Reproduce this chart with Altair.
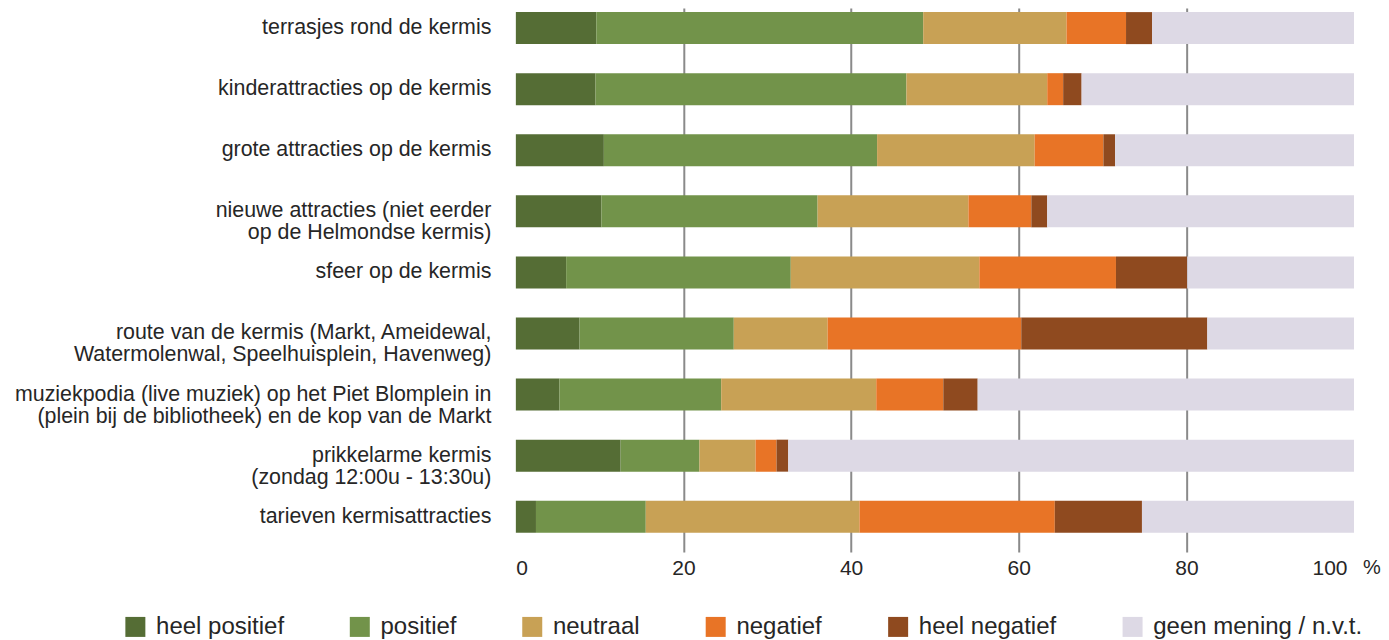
import altair as alt
import pandas as pd

categories = [
    "terrasjes rond de kermis",
    "kinderattracties op de kermis",
    "grote attracties op de kermis",
    "nieuwe attracties (niet eerder|op de Helmondse kermis)",
    "sfeer op de kermis",
    "route van de kermis (Markt, Ameidewal,|Watermolenwal, Speelhuisplein, Havenweg)",
    "muziekpodia (live muziek) op het Piet Blomplein in|(plein bij de bibliotheek) en de kop van de Markt",
    "prikkelarme kermis|(zondag 12:00u - 13:30u)",
    "tarieven kermisattracties",
]
answers = ["heel positief", "positief", "neutraal", "negatief", "heel negatief", "geen mening / n.v.t."]

heel_positief = [9.6, 9.5, 10.5, 10.2, 6.0, 7.6, 5.2, 12.5, 2.4]
positief = [39.0, 37.1, 32.6, 25.8, 26.8, 18.4, 19.3, 9.4, 13.1]
neutraal = [17.1, 16.8, 18.8, 18.0, 22.5, 11.2, 18.5, 6.7, 25.5]
negatief = [7.1, 1.9, 8.2, 7.5, 16.3, 23.1, 8.0, 2.5, 23.3]
heel_negatief = [3.1, 2.2, 1.4, 1.9, 8.5, 22.2, 4.1, 1.4, 10.4]
geen_mening = [24.1, 32.5, 28.5, 36.6, 19.9, 17.5, 44.9, 67.5, 25.3]

colors = ["#556d35", "#72934a", "#c8a155", "#e87426", "#8f4a1f", "#ddd9e5"]
x_ticks = [0, 20, 40, 60, 80, 100]

series = [heel_positief, positief, neutraal, negatief, heel_negatief, geen_mening]
rows = []
for ai, (ans, vals) in enumerate(zip(answers, series)):
    for ci, (cat, v) in enumerate(zip(categories, vals)):
        rows.append({"categorie": cat, "antwoord": ans, "waarde": v, "volgorde": ai})
df = pd.DataFrame(rows)

FONT = "Liberation Sans, Arial, sans-serif"
TXT = "#262626"

chart = alt.Chart(df).mark_bar().encode(
    y=alt.Y(
        "categorie:N",
        sort=categories,
        scale=alt.Scale(paddingInner=0.476, paddingOuter=0.19, align=0.173, round=False),
        axis=alt.Axis(
            title=None,
            labelExpr="split(datum.label, '|')",
            labelAlign="right",
            labelBaseline="middle",
            labelPadding=25,
            labelFontSize=21.4,
            labelLineHeight=22,
            labelColor=TXT,
            labelLimit=700,
            domain=False,
            ticks=False,
            grid=False,
            minExtent=507.6,
            maxExtent=507.6,
        ),
    ),
    x=alt.X(
        "waarde:Q",
        stack="zero",
        scale=alt.Scale(domain=[0, 100], nice=False),
        axis=alt.Axis(
            values=x_ticks,
            title="%",
            titleX=847,
            titleY=6,
            titleAlign="left",
            titleBaseline="top",
            titleAngle=0,
            titleFontSize=20,
            titleFontWeight="normal",
            titleColor=TXT,
            labelFontSize=21,
            labelColor=TXT,
            labelPadding=6,
            labelFlush=True,
            labelOffset=alt.condition("datum.value == 100", alt.value(-7), alt.value(0)),
            domain=False,
            ticks=False,
            tickSize=0,
            grid=True,
            gridColor="#8a8a8a",
            gridWidth=2,
            gridOpacity=alt.condition("datum.value > 0 && datum.value < 100", alt.value(1), alt.value(0)),
        ),
    ),
    color=alt.Color(
        "antwoord:N",
        sort=answers,
        scale=alt.Scale(domain=answers, range=colors),
        legend=alt.Legend(
            title=None,
            orient="none",
            legendX=-392.6,
            legendY=607,
            direction="horizontal",
            columns=6,
            symbolType="square",
            symbolSize=400,
            symbolStrokeWidth=0,
            symbolOpacity=1,
            labelFontSize=24,
            labelColor=TXT,
            labelOffset=8.7,
            labelLimit=400,
            columnPadding=63.5,
            padding=0,
        ),
    ),
    order=alt.Order("volgorde:Q", sort="ascending"),
).properties(
    width=838.4,
    height=544,
    padding={"left": 0, "top": 0, "right": 0, "bottom": 0},
).configure(
    font=FONT,
).configure_view(
    stroke=None,
)

chart.save("out.html", embed_options={"renderer": "svg", "actions": False})
